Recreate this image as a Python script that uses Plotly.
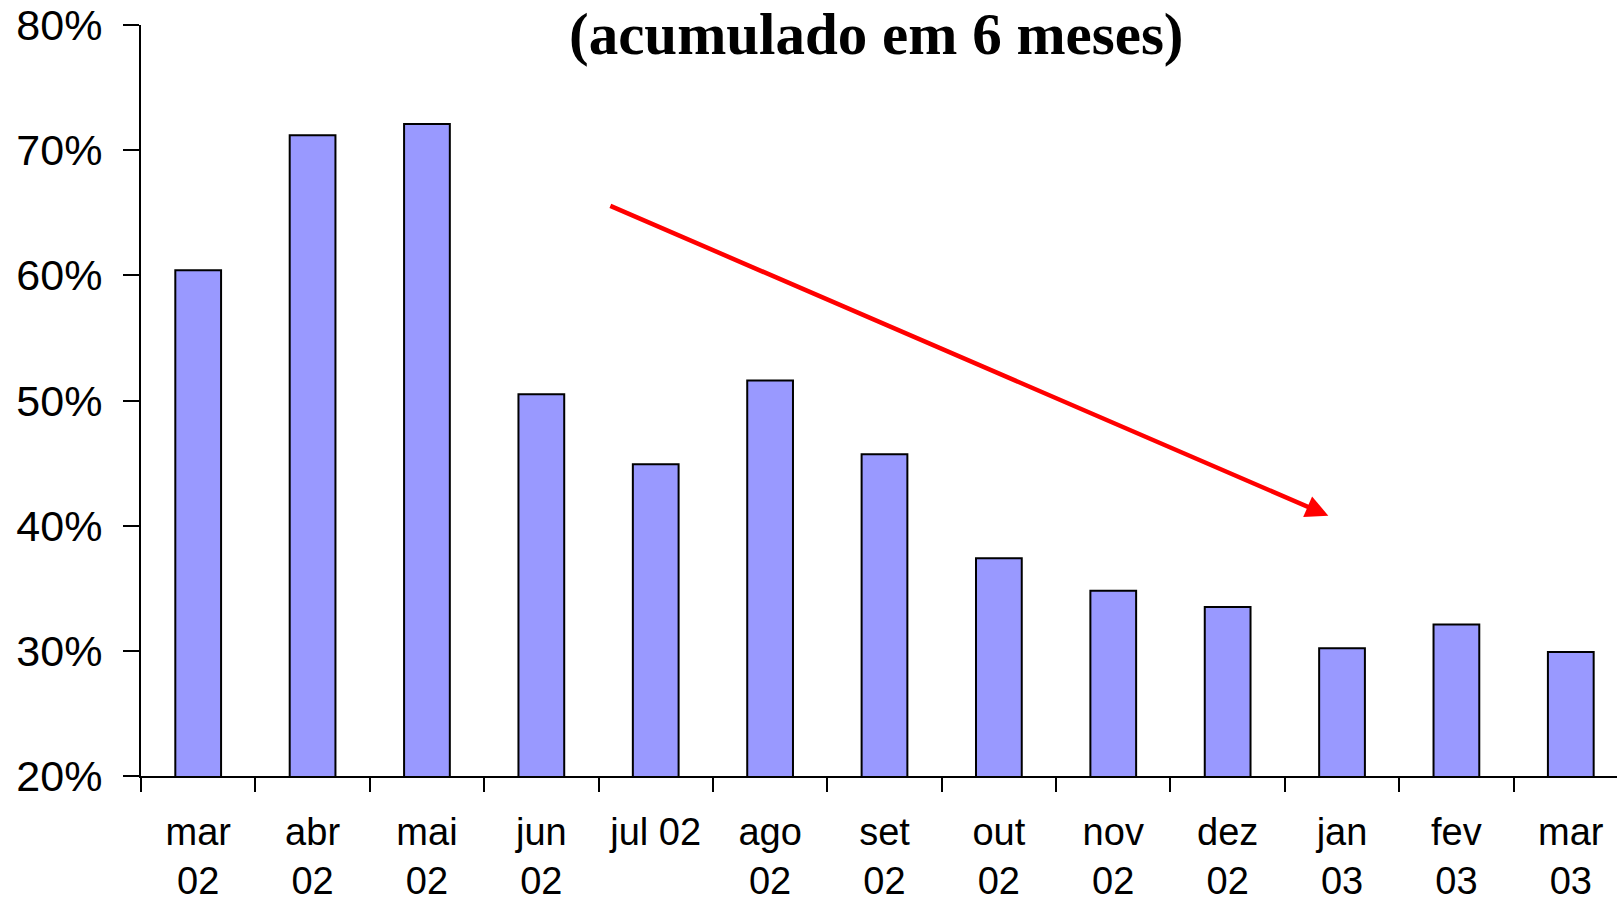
import plotly.graph_objects as go

categories = ["mar<br>02", "abr<br>02", "mai<br>02", "jun<br>02", "jul 02", "ago<br>02",
              "set<br>02", "out<br>02", "nov<br>02", "dez<br>02", "jan<br>03", "fev<br>03", "mar<br>03"]
values = [60.4, 71.2, 72.1, 50.5, 44.9, 51.6, 45.7, 37.4, 34.8, 33.5, 30.2, 32.1, 29.9]
y_ticks = [20, 30, 40, 50, 60, 70, 80]
y_tick_labels = ["20%", "30%", "40%", "50%", "60%", "70%", "80%"]
title_text = "(acumulado em 6 meses)"
# trend arrow: tail (x, y) and head (x, y) in data units
arrow_tail = [3.59, 65.6]
arrow_head = [9.88, 40.8]

fig = go.Figure()
fig.add_trace(go.Bar(
    x=categories, y=values,
    marker=dict(color="#9999FF", line=dict(color="black", width=2)),
    width=0.4,
))

fig.update_layout(
    width=1617, height=903,
    margin=dict(l=141, r=0, t=25, b=127),
    plot_bgcolor="white", paper_bgcolor="white",
    showlegend=False,
    font=dict(family="Liberation Sans, Arial, sans-serif", size=38, color="black"),
    xaxis=dict(
        type="category",
        range=[-0.5, 12.404],
        showline=True, linecolor="black", linewidth=2,
        ticks="outside", ticklen=14, tickwidth=1.5, tickcolor="black",
        tickson="boundaries",
        showgrid=False, zeroline=False,
        ticklabelstandoff=21,
        automargin=False,
    ),
    yaxis=dict(
        range=[20, 80],
        tickmode="array", tickvals=y_ticks, ticktext=y_tick_labels,
        showline=True, linecolor="black", linewidth=2,
        ticks="outside", ticklen=16, tickwidth=1.5, tickcolor="black",
        showgrid=False, zeroline=False,
        ticklabelstandoff=12,
        tickfont=dict(size=43),
        automargin=False,
    ),
    annotations=[
        dict(text="<b>" + title_text + "</b>", xref="paper", yref="paper",
             x=0.4986, y=0.988, xanchor="center", yanchor="middle", showarrow=False,
             font=dict(family="Liberation Serif, Times New Roman, serif", size=59, color="black")),
        dict(x=arrow_head[0], y=arrow_head[1], ax=arrow_tail[0], ay=arrow_tail[1],
             xref="x", yref="y", axref="x", ayref="y", text="", showarrow=True,
             arrowhead=2, arrowsize=1.0, arrowwidth=4.5, arrowcolor="#FF0000"),
    ],
)

fig.write_html("out.html", config={"displayModeBar": False},
               post_script="document.body.style.margin='0';document.body.style.overflow='hidden';")
